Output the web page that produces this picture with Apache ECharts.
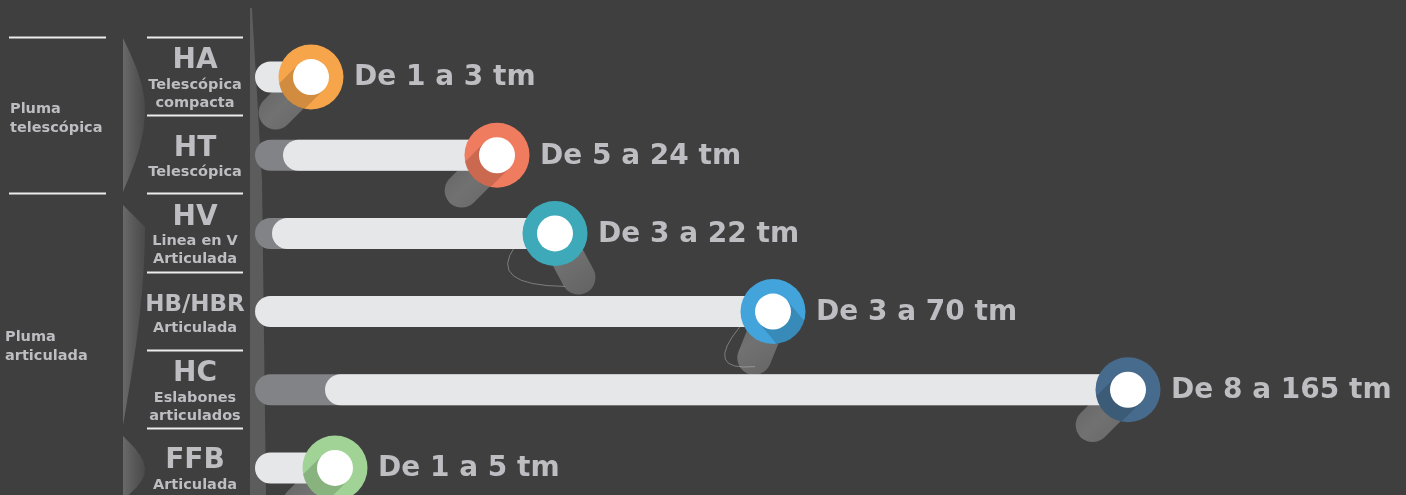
<!DOCTYPE html>
<html>
<head>
<meta charset="utf-8">
<title>Plumas</title>
<script src="https://cdn.jsdelivr.net/npm/echarts@6/dist/echarts.min.js"></script>
<style>
html,body{margin:0;padding:0;background:#3f3f3f;}
#main{width:1406px;height:495px;}
</style>
</head>
<body>
<div id="main"></div>
<script>
// datos
var codes = ['HA','HT','HV','HB/HBR','HC','FFB'];
var subtitles = ['Telescópica\ncompacta','Telescópica','Linea en V\nArticulada','Articulada','Eslabones\narticulados','Articulada'];
var minTm = [1,5,3,3,8,1];
var maxTm = [3,24,22,70,165,5];
// largo de la barra tal como se dibuja (no es proporcional a tm)
var barEnd = [56,242,300,518,873,80];
var lightStart = [0,28,17,0,70,0];
var groupNames = ['Pluma\ntelescópica','Pluma\narticulada'];
var groupFirst = [0,2];
var groupLast = [1,5];

// estilos
var ringColors = ['#f6a54b','#ef7c5f','#3eaab9','#42a4da','#476b8c','#a0d395'];
var tailAngle = [135,135,62,112,135,135];
var shadowAngle = [135,135,null,50,135,135];
// contorno fino bajo algunos marcadores (offsets desde el centro)
var ghostCurve = [null,null,[-40,13,-68,52,10,53],[-33,15,-70,60,-18,55],null,null];
var txtColor = '#bdbdc2';
var font = '"DejaVu Sans", "Liberation Sans", sans-serif';

var myChart = echarts.init(document.getElementById('main'));

var rows = [];
for(var i = 0; i < codes.length; i++){
	rows.push([barEnd[i], i, lightStart[i]]);
}
var groups = [];
for(var g = 0; g < groupNames.length; g++){
	groups.push([0, groupFirst[g], groupLast[g]]);
}

function renderTail(params, api){
	var i = params.dataIndex;
	var c = api.coord([api.value(0), api.value(1)]);
	var a = tailAngle[i] * Math.PI / 180;
	var L = 50;
	var children = [{
		type:'line',
		shape:{x1:c[0], y1:c[1], x2:c[0] + L*Math.cos(a), y2:c[1] + L*Math.sin(a)},
		style:{
			stroke:new echarts.graphic.LinearGradient(0,0,1,1,[
				{offset:0, color:'#5f5f5f'},
				{offset:0.5, color:'#777777'},
				{offset:1, color:'#666666'}
			]),
			lineWidth:34, lineCap:'round', opacity:0.9
		}
	}];
	var gc = ghostCurve[i];
	if(gc){
		children.push({
			type:'bezierCurve',
			shape:{x1:c[0]+gc[0], y1:c[1]+gc[1], cpx1:c[0]+gc[2], cpy1:c[1]+gc[3], x2:c[0]+gc[4], y2:c[1]+gc[5]},
			style:{stroke:'rgba(200,200,200,0.45)', lineWidth:1, fill:null}
		});
	}
	return {type:'group', children:children};
}

function renderBar(params, api){
	var end = api.coord([api.value(0), api.value(1)]);
	var zero = api.coord([0, api.value(1)]);
	var ls = api.coord([api.value(2), api.value(1)]);
	var h = 31;
	var children = [];
	if(api.value(2) > 0){
		children.push({
			type:'rect',
			shape:{x:zero[0], y:zero[1]-h/2, width:end[0]-zero[0], height:h, r:h/2},
			style:{fill:'#828386'}
		});
	}
	children.push({
		type:'rect',
		shape:{x:ls[0], y:ls[1]-h/2, width:end[0]-ls[0], height:h, r:h/2},
		style:{fill:'#e6e7e9'}
	});
	return {type:'group', children:children};
}

function renderMarker(params, api){
	var i = params.dataIndex;
	var c = api.coord([api.value(0), api.value(1)]);
	var R = 32.5, r = 18;
	var children = [{
		type:'circle',
		shape:{cx:c[0], cy:c[1], r:R},
		style:{fill:ringColors[i]}
	}];
	if(shadowAngle[i] !== null){
		var a = shadowAngle[i] * Math.PI / 180;
		var s = Math.sqrt(R*R - r*r);
		var phi = Math.atan2(r, s);
		var pts = [];
		pts.push([c[0] + r*Math.cos(a+Math.PI/2), c[1] + r*Math.sin(a+Math.PI/2)]);
		for(var k = 0; k <= 12; k++){
			var t = a + phi - 2*phi*k/12;
			pts.push([c[0] + R*Math.cos(t), c[1] + R*Math.sin(t)]);
		}
		pts.push([c[0] + r*Math.cos(a-Math.PI/2), c[1] + r*Math.sin(a-Math.PI/2)]);
		children.push({
			type:'polygon',
			shape:{points:pts},
			style:{fill:'rgba(0,0,0,0.15)'}
		});
	}
	children.push({
		type:'circle',
		shape:{cx:c[0], cy:c[1], r:r},
		style:{fill:'#ffffff'}
	});
	children.push({
		type:'text',
		style:{
			text:'De ' + minTm[i] + ' a ' + maxTm[i] + ' tm',
			x:c[0] + 43, y:c[1] + 1,
			fill:txtColor,
			font:'bold 28px ' + font,
			align:'left', verticalAlign:'middle'
		}
	});
	return {type:'group', children:children};
}

// columna de codigos: codigo, subtitulo y separador
function renderLabel(params, api){
	var i = params.dataIndex;
	var c = api.coord([0, api.value(1)]);
	var band = api.size([0, 1])[1];
	var lines = subtitles[i].split('\n');
	var H = 30 + 18*lines.length;
	var top = c[1] + 2 - H/2;
	var y = Math.round(c[1] - band/2) - 0.5;
	var children = [{
		type:'line',
		shape:{x1:147, y1:y, x2:243, y2:y},
		style:{stroke:'#ececec', lineWidth:2}
	}, {
		type:'text',
		style:{
			text:codes[i], x:195, y:top + 15,
			fill:txtColor,
			font:'bold ' + (codes[i].length > 3 ? 23 : 28) + 'px ' + font,
			align:'center', verticalAlign:'middle'
		}
	}];
	for(var j = 0; j < lines.length; j++){
		children.push({
			type:'text',
			style:{
				text:lines[j], x:195, y:top + 39 + 18*j,
				fill:txtColor, font:'bold 14.5px ' + font,
				align:'center', verticalAlign:'middle'
			}
		});
	}
	return {type:'group', children:children};
}

function renderGroup(params, api){
	var band = api.size([0, 1])[1];
	var top = api.coord([0, api.value(1)])[1] - band/2;
	var bottom = api.coord([0, api.value(2)])[1] + band/2;
	var y = Math.round(top) - 0.5;
	return {type:'group', children:[
		{type:'line', shape:{x1:9, y1:y, x2:106, y2:y}, style:{stroke:'#ececec', lineWidth:2}},
		{type:'text', style:{
			text:groupNames[params.dataIndex],
			x:params.dataIndex == 0 ? 10 : 5,
			y:Math.min((top + bottom)/2 + 3, 347),
			fill:txtColor, font:'bold 14.5px ' + font, lineHeight:19,
			align:'left', verticalAlign:'middle'
		}}
	]};
}

// texturas decorativas
function wedge(x, y0, y1, yMax){
	var pts = [[x, y0]];
	for(var k = 0; k <= 10; k++){
		var y = y0 + (y1 - y0)*k/10;
		var w = y < yMax ? (y - y0)/(yMax - y0) : (y1 - y)/(y1 - yMax);
		pts.push([x + 22*Math.sin(w*Math.PI/2), y]);
	}
	pts.push([x, y1]);
	return {
		type:'polygon', shape:{points:pts}, silent:true, z:-1,
		style:{fill:new echarts.graphic.LinearGradient(0,0,1,0,[
			{offset:0, color:'rgba(110,110,110,0.9)'},
			{offset:1, color:'rgba(80,80,80,0.7)'}
		])}
	};
}

var option = {
	backgroundColor:'#3f3f3f',
	animation:false,
	grid:{left:255, top:38, width:1000, height:469, outerBoundsMode:'none', containLabel:false},
	xAxis:{type:'value', min:0, max:1000, show:false},
	yAxis:{
		type:'category', inverse:true, data:codes,
		axisLine:{show:false}, axisTick:{show:false}, splitLine:{show:false},
		axisLabel:{show:false}
	},
	graphic:[
		wedge(123, 38, 192, 110),
		wedge(123, 205, 425, 225),
		wedge(123, 436, 500, 470),
		{
			type:'polygon', silent:true, z:-1,
			shape:{points:[[250,8],[252,8],[262,180],[266,495],[250,495]]},
			style:{fill:'rgba(100,100,100,0.8)'}
		}
	],
	series:[
		{type:'custom', renderItem:renderTail, data:rows, z:1},
		{type:'custom', renderItem:renderBar, data:rows, z:2},
		{type:'custom', renderItem:renderMarker, data:rows, z:3},
		{type:'custom', renderItem:renderLabel, data:rows, z:3},
		{type:'custom', renderItem:renderGroup, data:groups, z:3}
	]
};

myChart.setOption(option);
</script>
</body>
</html>
